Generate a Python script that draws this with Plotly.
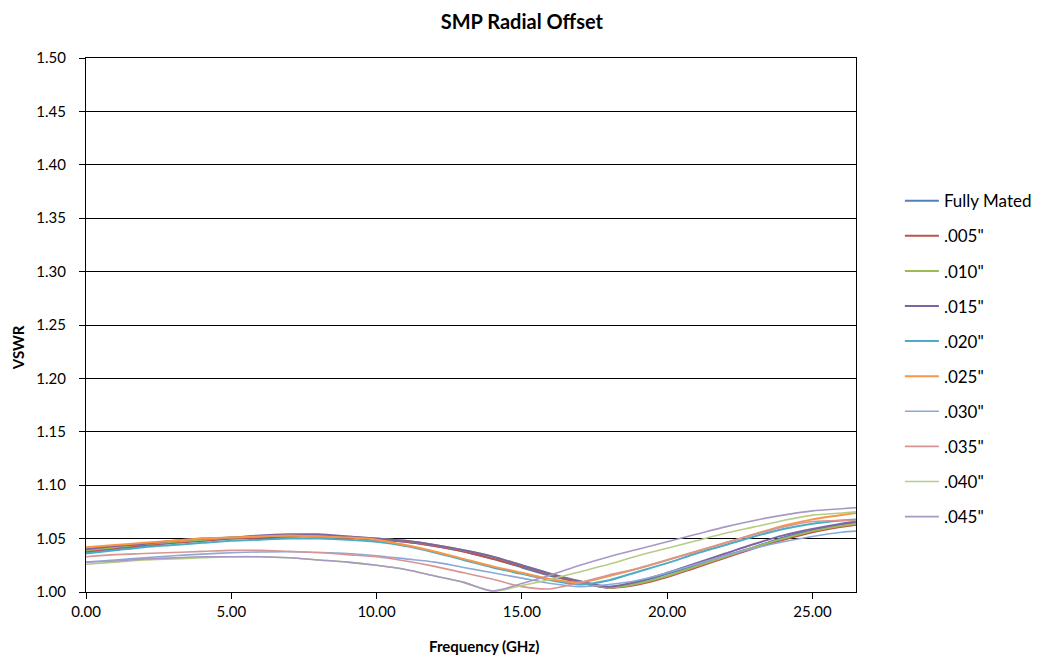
import plotly.graph_objects as go

freq = [0, 1, 2, 3, 4, 5, 6, 7, 8, 9, 10, 11, 12, 13, 14, 15, 16, 17, 18, 19, 20, 21, 22, 23, 24, 25, 26, 26.5]

fully_mated = [1.037, 1.040, 1.043, 1.046, 1.048, 1.050, 1.051, 1.052, 1.052, 1.051, 1.049, 1.047, 1.043, 1.038, 1.031, 1.023, 1.015, 1.009, 1.004, 1.009, 1.017, 1.025, 1.034, 1.042, 1.051, 1.058, 1.063, 1.065]
off_005 = [1.038, 1.041, 1.044, 1.046, 1.048, 1.050, 1.051, 1.052, 1.052, 1.051, 1.049, 1.047, 1.043, 1.038, 1.031, 1.024, 1.016, 1.009, 1.004, 1.007, 1.014, 1.023, 1.032, 1.041, 1.049, 1.056, 1.061, 1.063]
off_010 = [1.039, 1.042, 1.045, 1.047, 1.049, 1.051, 1.052, 1.053, 1.053, 1.052, 1.050, 1.048, 1.044, 1.039, 1.033, 1.025, 1.017, 1.010, 1.004, 1.008, 1.015, 1.024, 1.033, 1.042, 1.050, 1.057, 1.062, 1.064]
off_015 = [1.040, 1.043, 1.045, 1.048, 1.050, 1.051, 1.053, 1.054, 1.054, 1.052, 1.050, 1.048, 1.044, 1.039, 1.033, 1.025, 1.017, 1.010, 1.005, 1.010, 1.018, 1.027, 1.036, 1.045, 1.053, 1.059, 1.064, 1.066]
off_020 = [1.036, 1.039, 1.042, 1.044, 1.046, 1.048, 1.049, 1.050, 1.050, 1.049, 1.047, 1.043, 1.037, 1.030, 1.023, 1.017, 1.011, 1.007, 1.011, 1.019, 1.027, 1.036, 1.044, 1.052, 1.059, 1.064, 1.067, 1.068]
off_025 = [1.042, 1.044, 1.046, 1.048, 1.050, 1.051, 1.052, 1.053, 1.052, 1.051, 1.049, 1.044, 1.038, 1.031, 1.024, 1.018, 1.012, 1.009, 1.015, 1.022, 1.030, 1.038, 1.046, 1.054, 1.062, 1.068, 1.072, 1.074]
off_030 = [1.028, 1.030, 1.032, 1.034, 1.0355, 1.0368, 1.0375, 1.0377, 1.037, 1.036, 1.034, 1.031, 1.028, 1.023, 1.018, 1.013, 1.008, 1.005, 1.007, 1.011, 1.018, 1.026, 1.034, 1.041, 1.047, 1.052, 1.056, 1.057]
off_035 = [1.033, 1.035, 1.036, 1.037, 1.038, 1.039, 1.039, 1.038, 1.037, 1.035, 1.033, 1.029, 1.024, 1.018, 1.012, 1.005, 1.003, 1.009, 1.016, 1.022, 1.030, 1.038, 1.046, 1.054, 1.061, 1.066, 1.067, 1.067]
off_040 = [1.026, 1.028, 1.030, 1.031, 1.032, 1.033, 1.033, 1.032, 1.030, 1.028, 1.025, 1.021, 1.015, 1.009, 1.001, 1.006, 1.012, 1.019, 1.026, 1.034, 1.041, 1.048, 1.055, 1.061, 1.067, 1.072, 1.074, 1.075]
off_045 = [1.028, 1.029, 1.031, 1.032, 1.033, 1.033, 1.033, 1.032, 1.030, 1.028, 1.025, 1.021, 1.015, 1.009, 1.001, 1.008, 1.016, 1.025, 1.033, 1.040, 1.047, 1.054, 1.061, 1.067, 1.072, 1.076, 1.078, 1.079]

series_names = ["Fully Mated", '.005"', '.010"', '.015"', '.020"', '.025"', '.030"', '.035"', '.040"', '.045"']
series_values = [fully_mated, off_005, off_010, off_015, off_020, off_025, off_030, off_035, off_040, off_045]
colors = ["#4F81BD", "#C0504D", "#9BBB59", "#8064A2", "#4BACC6", "#F79646",
          "#8DA9D8", "#D79593", "#B5CD85", "#A898C4"]
widths = [2, 2, 2, 2, 2, 2, 1.6, 1.6, 1.6, 1.6]

y_ticks = [1.00, 1.05, 1.10, 1.15, 1.20, 1.25, 1.30, 1.35, 1.40, 1.45, 1.50]
x_ticks = [0, 5, 10, 15, 20, 25]

FONT = "Lato, Open Sans, Liberation Sans, sans-serif"

fig = go.Figure()
for name, vals, c, w in zip(series_names, series_values, colors, widths):
    fig.add_trace(go.Scatter(
        x=freq, y=vals, mode="lines", name=name, legendgroup=name,
        line=dict(color=c, width=w, shape="spline", smoothing=0.8),
    ))

# page body has an 8px default margin; figure sized to fit the 1044x658 window
fig.update_layout(
    width=1036, height=650,
    margin=dict(l=78, r=188, t=50, b=66, autoexpand=False),
    paper_bgcolor="white", plot_bgcolor="white",
    font=dict(family=FONT, size=15, color="#000000"),
    title=dict(text="<b>SMP Radial Offset</b>", x=0.496, xanchor="center",
               y=0.978, yanchor="middle", font=dict(size=20, family=FONT)),
    showlegend=True,
    legend=dict(x=1.057, xanchor="left", y=0.437, yanchor="middle",
                font=dict(size=17, family=FONT), tracegroupgap=10,
                bgcolor="rgba(0,0,0,0)", itemwidth=34),
    xaxis=dict(range=[0, 26.5], tickvals=x_ticks, tickformat=".2f",
               showgrid=False, zeroline=False, showline=True, linecolor="black",
               linewidth=1, mirror=True, ticks="outside", ticklen=6,
               tickcolor="black", tickfont=dict(size=15)),
    yaxis=dict(range=[1.0, 1.5], tickvals=y_ticks, tickformat=".2f",
               showgrid=True, gridcolor="black", gridwidth=1, zeroline=False,
               showline=True, linecolor="black", linewidth=1, mirror=True,
               ticks="outside", ticklen=6, tickcolor="black",
               tickfont=dict(size=15), ticklabelstandoff=10),
    annotations=[
        dict(text="<b>Frequency (GHz)</b>", xref="paper", yref="paper",
             x=0.517, y=-0.101, xanchor="center", yanchor="middle",
             showarrow=False, font=dict(size=15, family=FONT)),
        dict(text="<b>VSWR</b>", xref="paper", yref="paper",
             x=-0.088, y=0.457, xanchor="center", yanchor="middle",
             textangle=-90, showarrow=False, font=dict(size=15, family=FONT)),
    ],
)

fig.write_html("out.html")
